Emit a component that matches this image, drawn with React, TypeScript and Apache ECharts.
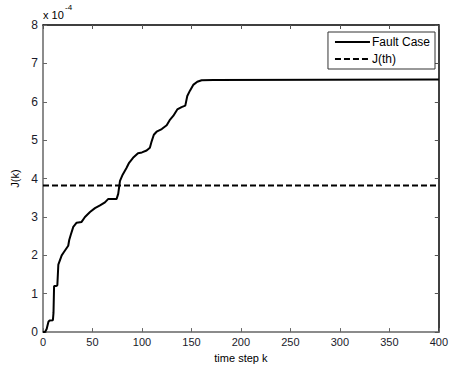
import React, { useEffect, useRef } from "react";
import * as echarts from "echarts";

// time step k and J(k) values (in units of 1e-4)
const faultK = [0, 2, 3.7, 5.5, 6.5, 10, 10.6, 11.2, 13, 14.5, 15.5, 18.9, 21, 25.5, 26.5, 28, 30.6, 34, 39, 42.4, 47.5, 52.5, 57.6, 62.6, 66, 74.4, 76, 77.8, 80.5, 84.5, 87, 91, 96, 100, 104.7, 108, 109.8, 112, 114.8, 120, 125, 128, 131.6, 135.7, 140, 143.8, 145.8, 148.5, 151.8, 155.9, 160.3, 172, 400];
const faultJ = [0, 0, 0.08, 0.27, 0.3, 0.31, 0.5, 1.2, 1.2, 1.22, 1.76, 2.0, 2.08, 2.25, 2.4, 2.53, 2.74, 2.85, 2.87, 3.0, 3.13, 3.23, 3.3, 3.38, 3.47, 3.47, 3.6, 3.94, 4.1, 4.28, 4.41, 4.54, 4.66, 4.68, 4.73, 4.8, 4.97, 5.14, 5.22, 5.29, 5.39, 5.52, 5.63, 5.8, 5.86, 5.9, 6.15, 6.29, 6.44, 6.52, 6.56, 6.57, 6.58];
const thresholdK = [0, 400];
const thresholdJ = [3.82, 3.82];
const xTicks = { min: 0, max: 400, interval: 50 };
const yTicks = { min: 0, max: 8, interval: 1 };

const FONT = "'Liberation Sans', Arial, sans-serif";

export default function App() {
  const ref = useRef<HTMLDivElement>(null);
  useEffect(() => {
    if (!ref.current) return;
    const chart = echarts.init(ref.current, undefined, { renderer: "svg" });
    const labelStyle = { color: "#1a1a2a", fontSize: 11, fontFamily: FONT };
    chart.setOption({
      animation: false,
      backgroundColor: "#fff",
      grid: { left: 43, right: 12, top: 25, bottom: 31, containLabel: false },
      legend: {
        orient: "vertical",
        right: 16,
        top: 32,
        borderColor: "#333",
        borderWidth: 1,
        backgroundColor: "#fff",
        padding: [4, 5, 4, 6],
        itemWidth: 35,
        itemHeight: 12,
        itemGap: 5,
        itemStyle: { opacity: 0 },
        textStyle: { color: "#000", fontSize: 12, fontFamily: FONT, padding: [0, 0, 0, -3] },
        data: ["Fault Case", "J(th)"],
      },
      xAxis: [
        {
          type: "value",
          ...xTicks,
          name: "time step k",
          nameLocation: "middle",
          nameGap: 19,
          nameTextStyle: { color: "#000", fontSize: 11, fontFamily: FONT },
          axisLine: { lineStyle: { color: "#666", width: 1.5 } },
          axisTick: { inside: true, length: 4, lineStyle: { color: "#666" } },
          axisLabel: { ...labelStyle, margin: 4 },
          splitLine: { show: false },
        },
        {
          type: "value",
          ...xTicks,
          position: "top",
          axisLine: { onZero: false, lineStyle: { color: "#000", width: 1.5 } },
          axisTick: { inside: true, length: 4, lineStyle: { color: "#555" } },
          axisLabel: { show: false },
          splitLine: { show: false },
        },
      ],
      yAxis: [
        {
          type: "value",
          ...yTicks,
          name: "J(k)",
          nameLocation: "middle",
          nameGap: 18,
          nameRotate: 90,
          nameTextStyle: { color: "#000", fontSize: 11, fontFamily: FONT },
          axisLine: { show: true, lineStyle: { color: "#666", width: 1.5 } },
          axisTick: { show: true, inside: true, length: 4, lineStyle: { color: "#666" } },
          axisLabel: { ...labelStyle, margin: 5, fontSize: 12 },
          splitLine: { show: false },
        },
        {
          type: "value",
          ...yTicks,
          position: "right",
          axisLine: { show: true, onZero: false, lineStyle: { color: "#000", width: 1.5 } },
          axisTick: { show: true, inside: true, length: 4, lineStyle: { color: "#555" } },
          axisLabel: { show: false },
          splitLine: { show: false },
        },
      ],
      graphic: [
        {
          type: "text",
          left: 43,
          top: 9,
          style: { text: "x 10", fill: "#000", fontSize: 11, fontFamily: FONT },
        },
        {
          type: "text",
          left: 65,
          top: 3,
          style: { text: "-4", fill: "#000", fontSize: 8, fontFamily: FONT },
        },
      ],
      series: [
        {
          name: "Fault Case",
          type: "line",
          symbol: "none",
          data: faultK.map((k, i) => [k, faultJ[i]]),
          lineStyle: { color: "#000", width: 2 },
          itemStyle: { color: "#000" },
        },
        {
          name: "J(th)",
          type: "line",
          symbol: "none",
          data: thresholdK.map((k, i) => [k, thresholdJ[i]]),
          lineStyle: { color: "#000", width: 2, type: [6, 3] },
          itemStyle: { color: "#000" },
        },
      ],
    });
    return () => chart.dispose();
  }, []);
  return (
    <div
      ref={ref}
      style={{ position: "fixed", left: 0, top: 0, width: 451, height: 368 }}
    />
  );
}
